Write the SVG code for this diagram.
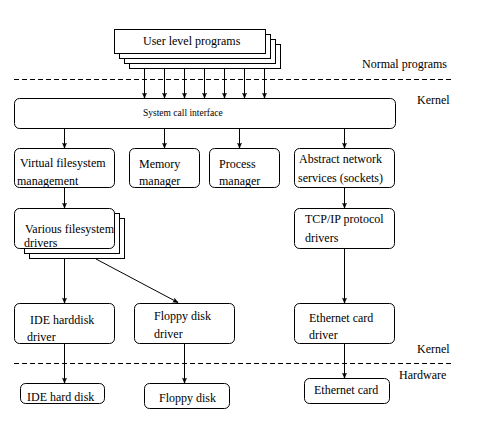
<svg xmlns="http://www.w3.org/2000/svg" width="484" height="423" viewBox="0 0 484 423">
<style>
.b{fill:#fff;stroke:#000;stroke-width:1}
.t{font-family:'Liberation Serif','Times New Roman','DejaVu Serif',serif;font-size:12px;fill:#000}
.s{font-family:'Liberation Serif','Times New Roman','DejaVu Serif',serif;font-size:9.5px;fill:#000}
.c{stroke:#000;stroke-width:1;fill:none}
.d{stroke:#000;stroke-width:1;stroke-dasharray:5,3;fill:none}
</style>
<defs>
<marker id="a" markerUnits="userSpaceOnUse" markerWidth="8" markerHeight="8" refX="5" refY="3" orient="auto">
<path d="M0,1 L5,3 L0,5 L1.5,3 Z" fill="#000" stroke="#000" stroke-width="0.6"/>
</marker>
</defs>
<rect width="484" height="423" fill="#fff"/>
<g id="separators">
<line class="d" x1="14" y1="79.5" x2="452" y2="79.5"/>
<line class="d" x1="14" y1="363.5" x2="452" y2="363.5"/>
<text class="t" x="362" y="68">Normal programs</text>
<text class="t" x="417" y="104">Kernel</text>
<text class="t" x="417" y="353">Kernel</text>
<text class="t" x="399" y="379">Hardware</text>
</g>
<g id="user-programs">
<rect class="b" x="129.5" y="44.5" width="151" height="24"/>
<rect class="b" x="124.5" y="39.5" width="151" height="24"/>
<rect class="b" x="119.5" y="34.5" width="151" height="24"/>
<rect class="b" x="114.5" y="29.5" width="151" height="24"/>
<text class="t" x="143" y="45">User level programs</text>
</g>
<g id="syscall">
<rect class="b" x="14.5" y="98.5" width="381" height="30" rx="5"/>
<text class="s" x="143" y="116">System call interface</text>
</g>
<g id="vfs">
<rect class="b" x="14.5" y="148.5" width="100" height="39" rx="5"/>
<text class="t" x="20" y="167">Virtual filesystem</text>
<text class="t" x="17" y="185">management</text>
</g>
<g id="memory">
<rect class="b" x="129.5" y="148.5" width="70" height="39" rx="5"/>
<text class="t" x="139" y="168">Memory</text>
<text class="t" x="139" y="185">manager</text>
</g>
<g id="process">
<rect class="b" x="209.5" y="148.5" width="70" height="39" rx="5"/>
<text class="t" x="219" y="168">Process</text>
<text class="t" x="219" y="185">manager</text>
</g>
<g id="network">
<rect class="b" x="294.5" y="148.5" width="100" height="39" rx="5"/>
<text class="t" x="299" y="163">Abstract network</text>
<text class="t" x="298" y="182">services (sockets)</text>
</g>
<g id="fs-drivers">
<rect class="b" x="29.5" y="218.5" width="95" height="40"/>
<rect class="b" x="24.5" y="213.5" width="95" height="40"/>
<rect class="b" x="14.5" y="208.5" width="100" height="40" rx="5"/>
<text class="t" x="25" y="233">Various filesystem</text>
<text class="t" x="24" y="247">drivers</text>
</g>
<g id="tcpip">
<rect class="b" x="294.5" y="208.5" width="100" height="40" rx="5"/>
<text class="t" x="305" y="223">TCP/IP protocol</text>
<text class="t" x="305" y="242">drivers</text>
</g>
<g id="ide-driver">
<rect class="b" x="14.5" y="303.5" width="100" height="40" rx="5"/>
<text class="t" x="30" y="324">IDE harddisk</text>
<text class="t" x="27" y="341">driver</text>
</g>
<g id="floppy-driver">
<rect class="b" x="134.5" y="303.5" width="100" height="40" rx="5"/>
<text class="t" x="154" y="320">Floppy disk</text>
<text class="t" x="154" y="338">driver</text>
</g>
<g id="eth-driver">
<rect class="b" x="294.5" y="303.5" width="100" height="40" rx="5"/>
<text class="t" x="309" y="322">Ethernet card</text>
<text class="t" x="309" y="339">driver</text>
</g>
<g id="ide-disk">
<rect class="b" x="20.5" y="383.5" width="84" height="20" rx="5"/>
<text class="t" x="27" y="401">IDE hard disk</text>
</g>
<g id="floppy-disk">
<rect class="b" x="144.5" y="383.5" width="85" height="25" rx="5"/>
<text class="t" x="159" y="402">Floppy disk</text>
</g>
<g id="eth-card">
<rect class="b" x="304.5" y="378.5" width="85" height="25" rx="5"/>
<text class="t" x="314" y="394">Ethernet card</text>
</g>
<g id="connectors">
<line class="c" x1="144.5" y1="69" x2="144.5" y2="98" marker-end="url(#a)"/>
<line class="c" x1="164.5" y1="69" x2="164.5" y2="98" marker-end="url(#a)"/>
<line class="c" x1="184.5" y1="69" x2="184.5" y2="98" marker-end="url(#a)"/>
<line class="c" x1="204.5" y1="69" x2="204.5" y2="98" marker-end="url(#a)"/>
<line class="c" x1="224.5" y1="69" x2="224.5" y2="98" marker-end="url(#a)"/>
<line class="c" x1="244.5" y1="69" x2="244.5" y2="98" marker-end="url(#a)"/>
<line class="c" x1="264.5" y1="69" x2="264.5" y2="98" marker-end="url(#a)"/>
<line class="c" x1="64.5" y1="129" x2="64.5" y2="148" marker-end="url(#a)"/>
<line class="c" x1="164.5" y1="129" x2="164.5" y2="148" marker-end="url(#a)"/>
<line class="c" x1="239.5" y1="129" x2="239.5" y2="148" marker-end="url(#a)"/>
<line class="c" x1="344.5" y1="129" x2="344.5" y2="148" marker-end="url(#a)"/>
<line class="c" x1="64.5" y1="188" x2="64.5" y2="208" marker-end="url(#a)"/>
<line class="c" x1="344.5" y1="188" x2="344.5" y2="208" marker-end="url(#a)"/>
<line class="c" x1="64.5" y1="259" x2="64.5" y2="303" marker-end="url(#a)"/>
<line class="c" x1="96" y1="259" x2="178" y2="302.5" marker-end="url(#a)"/>
<line class="c" x1="344.5" y1="249" x2="344.5" y2="303" marker-end="url(#a)"/>
<line class="c" x1="64.5" y1="344" x2="64.5" y2="383" marker-end="url(#a)"/>
<line class="c" x1="184.5" y1="344" x2="184.5" y2="383" marker-end="url(#a)"/>
<line class="c" x1="344.5" y1="344" x2="344.5" y2="378" marker-end="url(#a)"/>
</g>
</svg>
